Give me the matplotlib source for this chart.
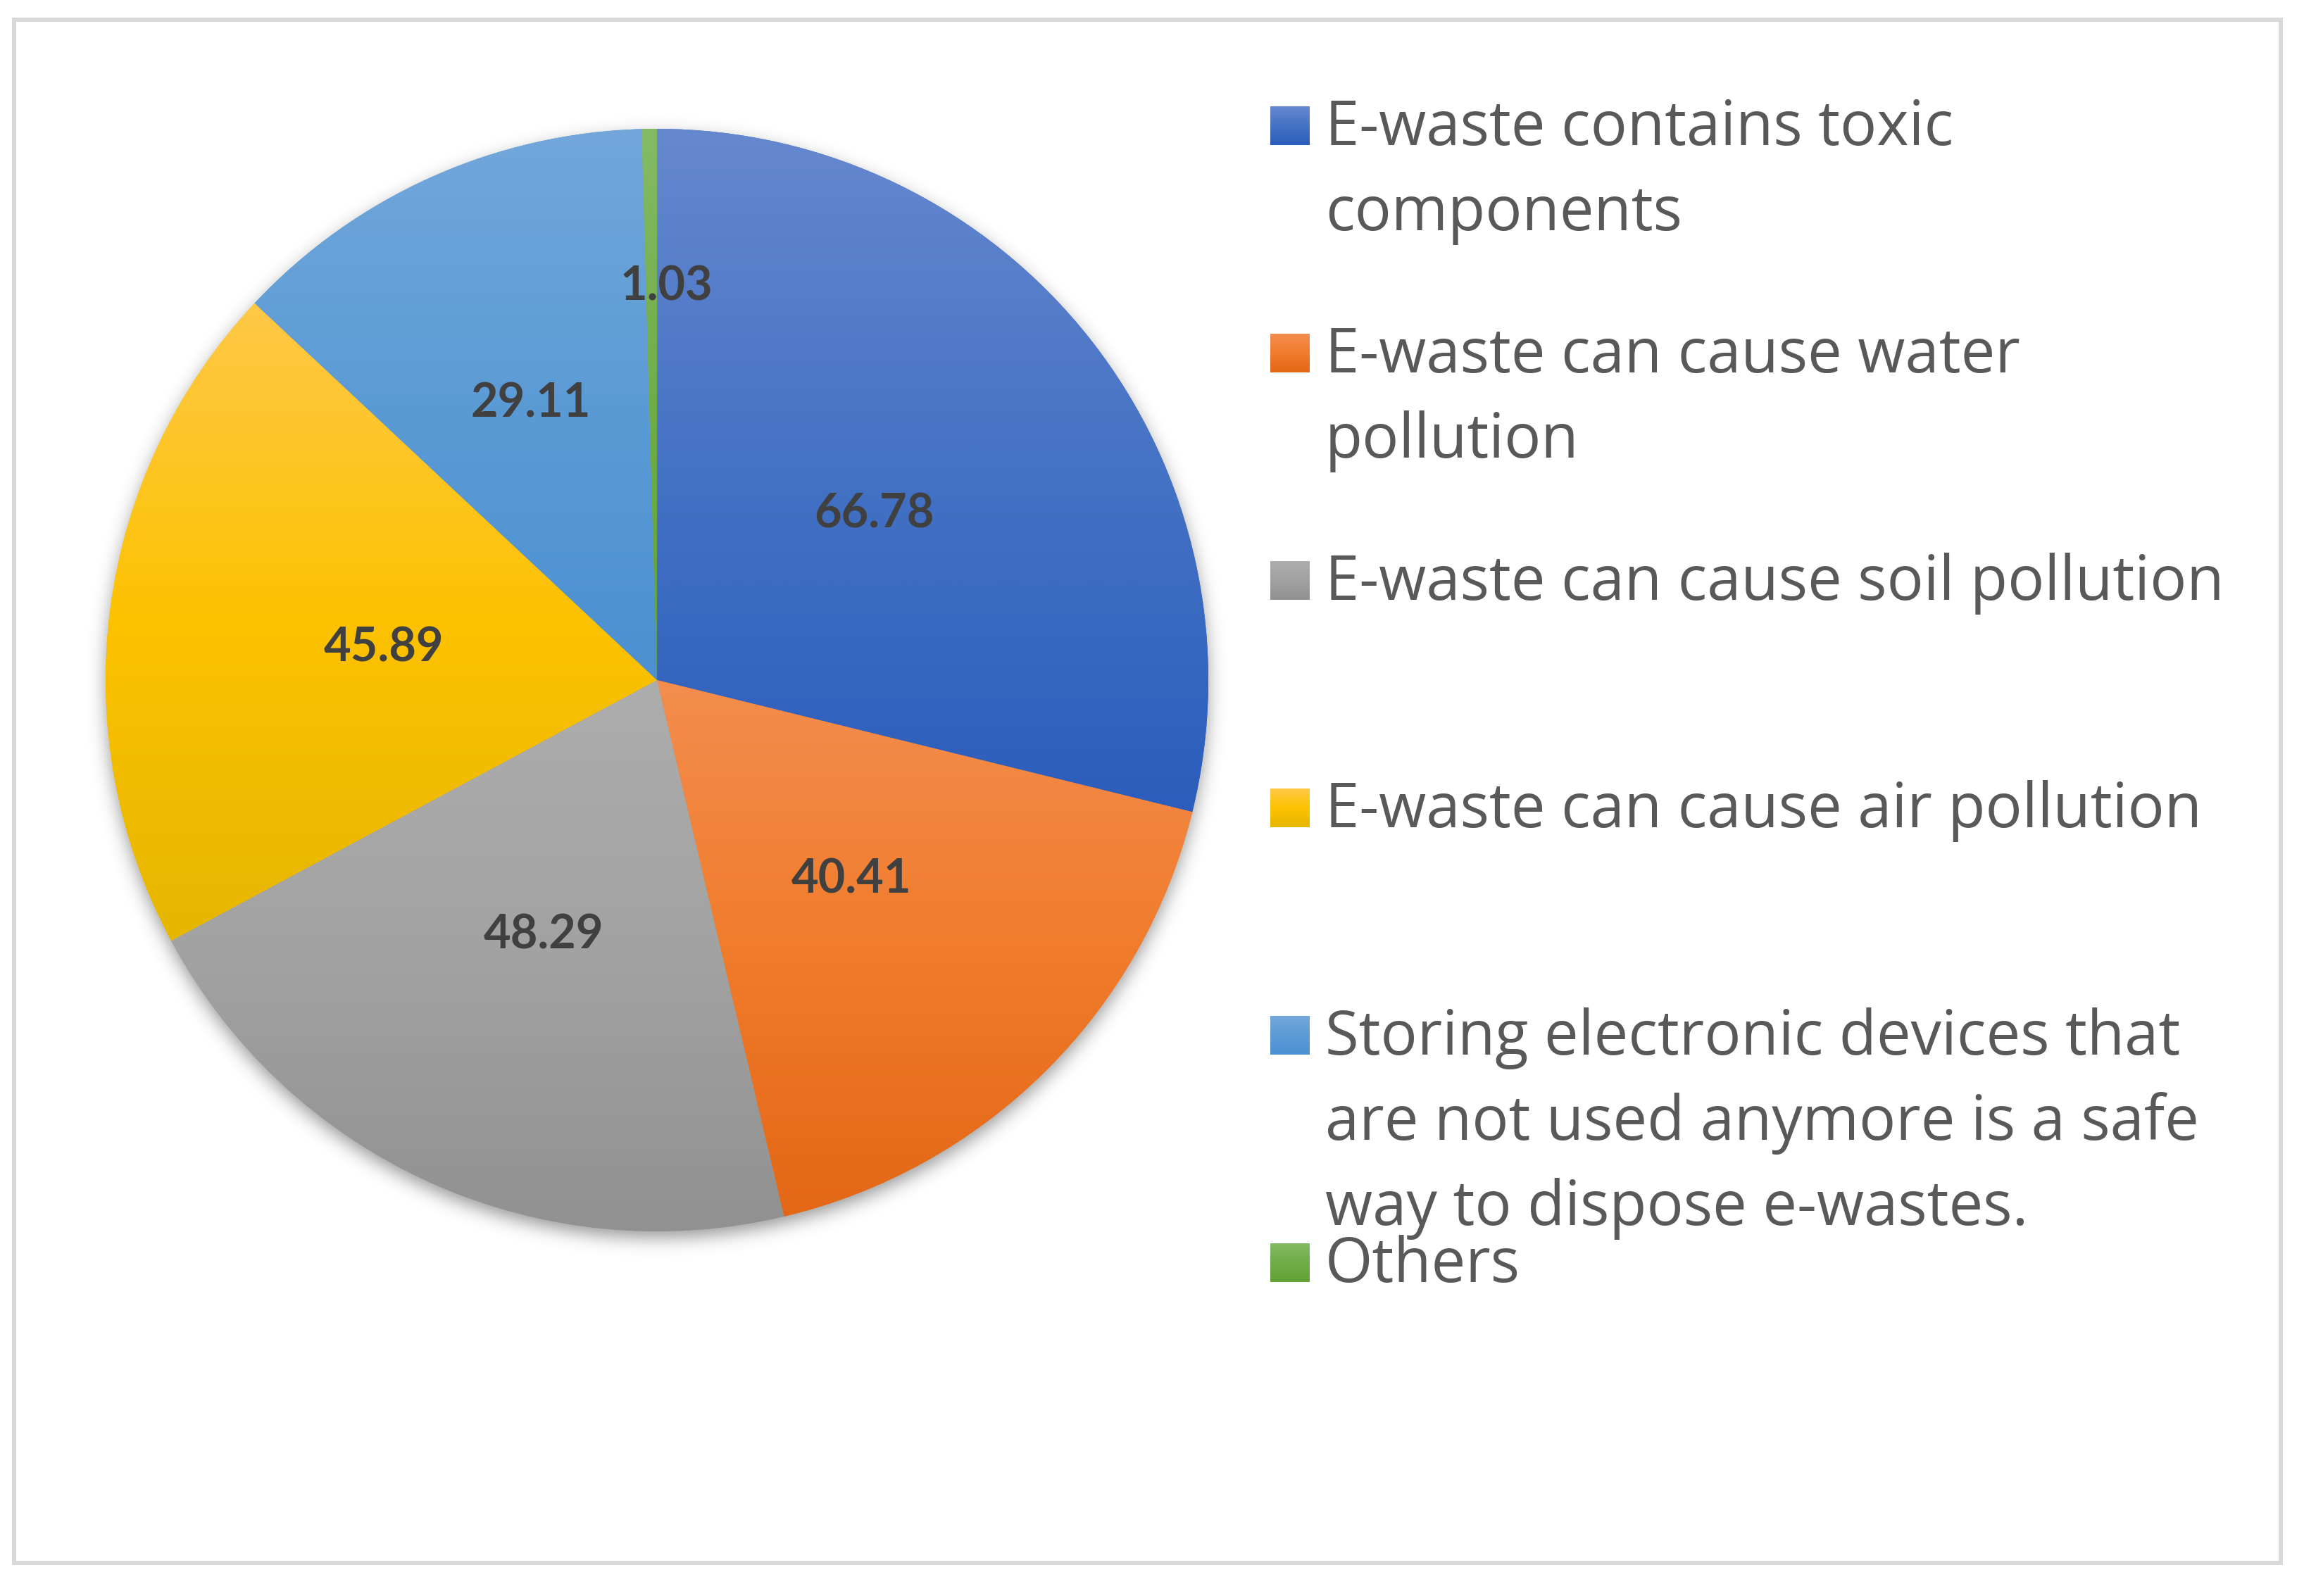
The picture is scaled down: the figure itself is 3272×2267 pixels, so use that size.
import numpy as np
import matplotlib
matplotlib.use("Agg")
import matplotlib.pyplot as plt
from matplotlib.colors import LinearSegmentedColormap
from matplotlib.patches import Rectangle
from math import erf

plt.rcParams['font.family'] = ['Lato', 'DejaVu Sans']

# ---- data ----
categories = [
    "E-waste contains toxic\ncomponents",
    "E-waste can cause water\npollution",
    "E-waste can cause soil pollution",
    "E-waste can cause air pollution",
    "Storing electronic devices that\nare not used anymore is a safe\nway to dispose e-wastes.",
    "Others",
]
values = [66.78, 40.41, 48.29, 45.89, 29.11, 1.03]
value_labels = ["66.78", "40.41", "48.29", "45.89", "29.11", "1.03"]

# gradient colours (top, middle, bottom) per slice
grad_colors = [
    ("#6688CF", "#4472C4", "#2C5DBC"),
    ("#F48D4E", "#F07C2C", "#E36716"),
    ("#ADADAD", "#A2A2A2", "#919191"),
    ("#FFC847", "#FDC200", "#E6B600"),
    ("#73A7DB", "#5B9BD5", "#4C90D2"),
    ("#84BA66", "#70AD47", "#62A236"),
]
label_dist = [0.5, 0.5, 0.5, 0.5, 0.557, 0.72]
label_dx = [0.0, 0.0, 0.0, 0.0, 0.0, 0.027]

W, H = 3273, 2267
fig = plt.figure(figsize=(W / 100, H / 100), dpi=100)
fig.patch.set_facecolor("white")

# pie axes: center (933, 966) px, radius 783 px
cx, cy, R = 933, 966, 783
ax = fig.add_axes([(cx - R) / W, (H - cy - R) / H, 2 * R / W, 2 * R / H])
ax.set_axis_off()

# soft shadow behind pie
n = 600
xs = np.linspace(-1.12, 1.12, n)
ys = np.linspace(-1.14, 1.10, n)
X, Y = np.meshgrid(xs, ys)
D = np.sqrt(X ** 2 + (Y + 0.012) ** 2)
sig = 0.016
verf = np.vectorize(erf)
A = 0.5 * (1 - verf((D - 1.0) / (sig * np.sqrt(2)))) * 0.55
img = np.zeros((n, n, 4))
img[..., 0:3] = 0.25
img[..., 3] = A
ax.imshow(img, extent=[xs[0], xs[-1], ys[0], ys[-1]], origin="lower",
          zorder=0, clip_on=False, aspect="auto", interpolation="bilinear")

wedges, _ = ax.pie(values, startangle=90, counterclock=False,
                   colors=[c[1] for c in grad_colors],
                   wedgeprops=dict(linewidth=0, zorder=2), radius=1.0)

for w, (ct, cm, cb) in zip(wedges, grad_colors):
    th = np.radians(np.linspace(w.theta1, w.theta2, 400))
    px = np.concatenate([[0.0], np.cos(th)])
    py = np.concatenate([[0.0], np.sin(th)])
    cmap = LinearSegmentedColormap.from_list("g", [cb, cm, ct])
    grad = np.linspace(0, 1, 512).reshape(-1, 1)
    im = ax.imshow(grad, extent=[px.min() - 0.01, px.max() + 0.01, py.min(), py.max()],
                   origin="lower", cmap=cmap, aspect="auto", zorder=3,
                   interpolation="bilinear")
    im.set_clip_path(w)

# data labels
digit_h = 49 / R
for w, lab, d, dx in zip(wedges, value_labels, label_dist, label_dx):
    mid = np.radians((w.theta1 + w.theta2) / 2)
    x, y = d * np.cos(mid) + dx, d * np.sin(mid)
    ax.text(x, y - digit_h / 2, lab, ha="center", va="baseline",
            fontsize=48, fontweight="bold", color="#404040", zorder=5)

ax.set_xlim(-1, 1)
ax.set_ylim(-1, 1)
ax.set_aspect("equal")

# legend (manual layout)
text_x = 1882
mk_left, mk_w, mk_h = 1804, 56, 55
base0, slot, line_h = 206, 323, 121
for i, (cat, (ct, cm, cb)) in enumerate(zip(categories, grad_colors)):
    b = base0 + slot * i
    max_ = fig.add_axes([mk_left / W, (H - b) / H, mk_w / W, mk_h / H])
    max_.set_axis_off()
    cmap = LinearSegmentedColormap.from_list("g", [cb, cm, ct])
    max_.imshow(np.linspace(0, 1, 64).reshape(-1, 1), origin="lower", cmap=cmap,
                aspect="auto", extent=[0, 1, 0, 1])
    for j, line in enumerate(cat.split("\n")):
        yb = b + j * line_h
        fig.text(text_x / W, 1 - yb / H, line, ha="left", va="baseline",
                 fontsize=62.5, color="#595959", family=["Open Sans", "DejaVu Sans"])

# outer border
fig.add_artist(Rectangle((20.5 / W, 1 - 2220 / H), (3239.5 - 20.5) / W, (2220 - 28) / H,
                         transform=fig.transFigure, fill=False, ec="#D9D9D9", lw=4.3))

fig.savefig("out.png", dpi=100, facecolor="white")
